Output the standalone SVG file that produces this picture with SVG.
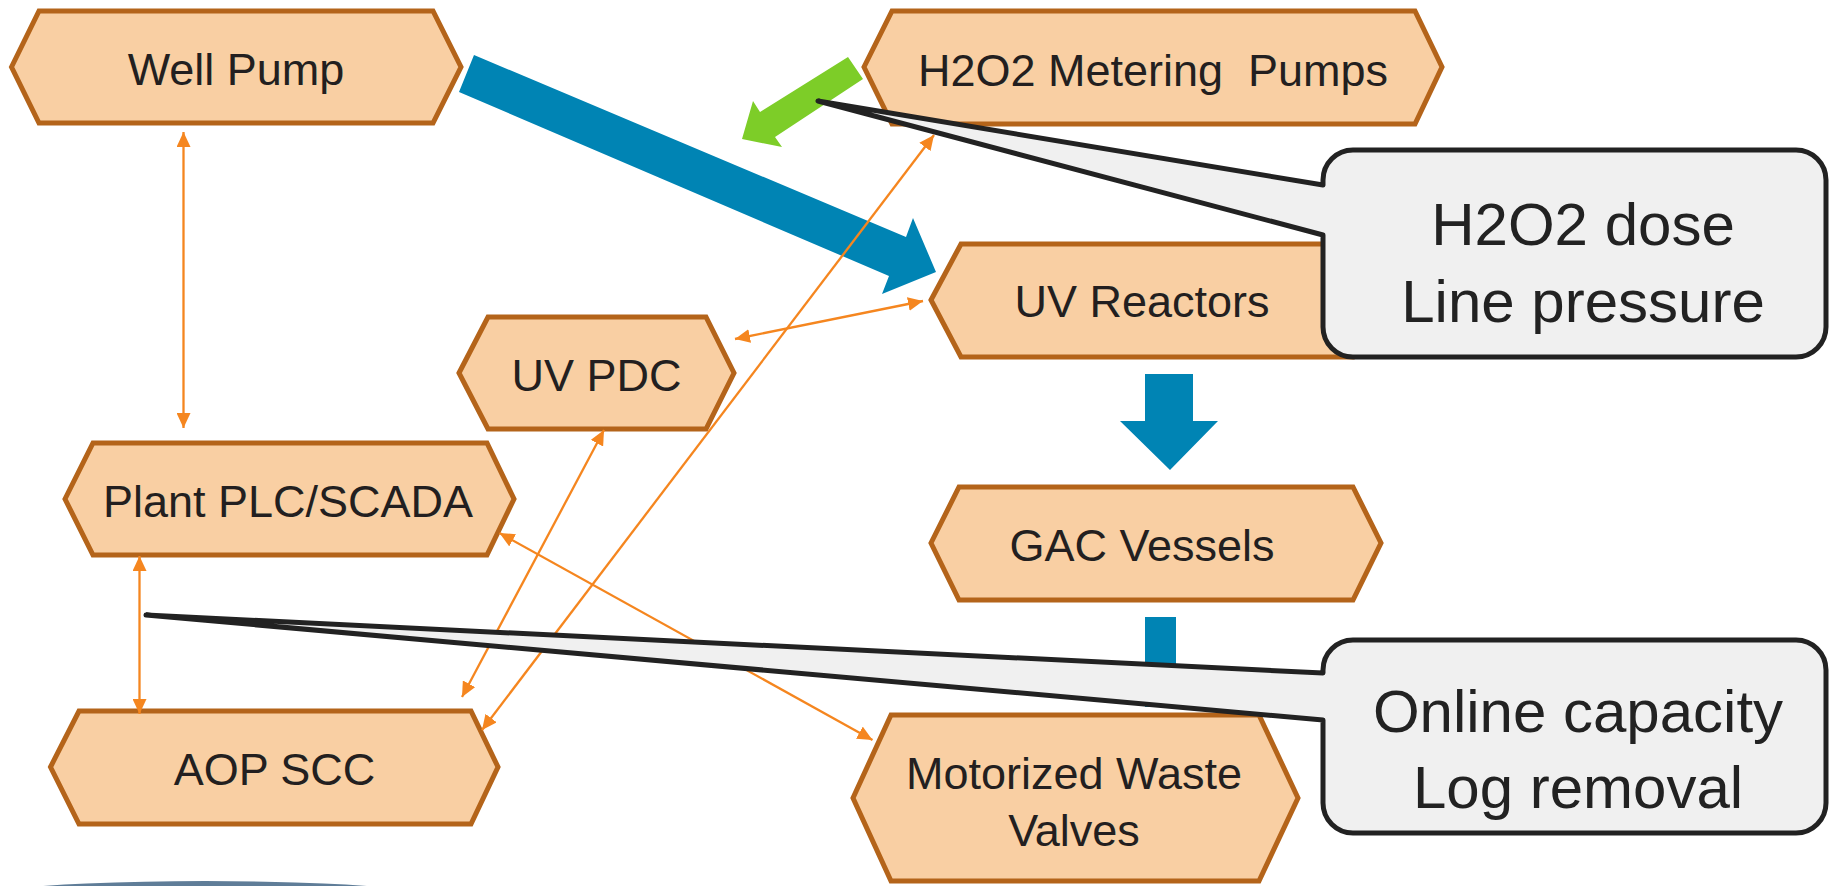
<svg xmlns="http://www.w3.org/2000/svg" width="1829" height="886" viewBox="0 0 1829 886">
<style>
.node{fill:#f9cfa3;stroke:#b4641a;stroke-width:5;stroke-linejoin:miter}
.lbl{font-family:"Liberation Sans",Arial,sans-serif;font-size:45px;fill:#231f20;text-anchor:middle}
.link{stroke:#f5861f;stroke-width:2.3;fill:none;marker-start:url(#ah);marker-end:url(#ah)}
.flow{fill:#0084b4}
.callout{fill:#f0f0f0;stroke:#222;stroke-width:5;stroke-linejoin:round}
.ctext{font-family:"Liberation Sans",Arial,sans-serif;font-size:60px;fill:#222;text-anchor:middle}
</style>
<defs>
<marker id="ah" viewBox="0 0 15 14" refX="15" refY="7" markerWidth="15" markerHeight="14" markerUnits="userSpaceOnUse" orient="auto-start-reverse">
<path d="M0,0 L15,7 L0,14 Z" fill="#f5861f"/>
</marker>
</defs>
<rect width="1829" height="886" fill="#ffffff"/>
<ellipse cx="205" cy="915" rx="310" ry="34" fill="#5f7d98"/>

<g id="node-well-pump">
<polygon class="node" points="11.5,67 39,11 433,11 461,67 433,123 39,123"/>
<text class="lbl" x="236" y="85">Well Pump</text>
</g>
<g id="node-h2o2-pumps">
<polygon class="node" points="864,67 892,11 1415,11 1442,67 1415,124 892,124"/>
<text class="lbl" x="1153" y="86" xml:space="preserve">H2O2 Metering  Pumps</text>
</g>
<g id="node-uv-reactors">
<polygon class="node" points="931,300 961,244 1353,244 1381,300 1353,357 961,357"/>
<text class="lbl" x="1142" y="317">UV Reactors</text>
</g>
<g id="node-uv-pdc">
<polygon class="node" points="459,373 488,317 706,317 734,373 706,429 488,429"/>
<text class="lbl" x="596.5" y="391">UV PDC</text>
</g>
<g id="node-plant-plc">
<polygon class="node" points="65,499 93,443 487,443 514,499 487,555 93,555"/>
<text class="lbl" x="288" y="517">Plant PLC/SCADA</text>
</g>
<g id="node-gac">
<polygon class="node" points="931,543 959,487 1353,487 1381,543 1353,600 959,600"/>
<text class="lbl" x="1142" y="561">GAC Vessels</text>
</g>
<g id="node-aop-scc">
<polygon class="node" points="50.5,767 79,711 471,711 498,767 471,824 79,824"/>
<text class="lbl" x="274.5" y="785">AOP SCC</text>
</g>
<g id="node-waste-valves">
<polygon class="node" points="853,798 891,715 1259,715 1298,798 1259,881 891,881"/>
<text class="lbl" x="1074" y="789">Motorized Waste</text>
<text class="lbl" x="1074" y="846">Valves</text>
</g>

<g id="connectors">
<polygon class="flow" points="474,55 906,237 913,218 936,272 882,294 889,276 459,92"/>
<polygon class="flow" points="1145,374 1193,374 1193,421 1218,421 1170,470 1120,421 1145,421"/>
<rect class="flow" x="1145" y="617" width="31" height="90"/>
<polygon fill="#7dcd28" points="848,57 863,79 775,137 782,147 742,139 753,101 760,112"/>
<line class="link" x1="183.5" y1="132" x2="183.5" y2="428"/>
<line class="link" x1="139.5" y1="556" x2="139.5" y2="714"/>
<line class="link" x1="735" y1="339" x2="923" y2="301"/>
<line class="link" x1="604" y1="430" x2="462" y2="697"/>
<line class="link" x1="934" y1="135" x2="482" y2="730"/>
<line class="link" x1="499.5" y1="533" x2="872.5" y2="740"/>
</g>

<g id="callout-h2o2">
<path class="callout" d="M1353,150 H1796 A30,30 0 0 1 1826,180 V327 A30,30 0 0 1 1796,357 H1353 A30,30 0 0 1 1323,327 V235 L818,101 L1323,185 V180 A30,30 0 0 1 1353,150 Z"/>
<text class="ctext" x="1583" y="245">H2O2 dose</text>
<text class="ctext" x="1583" y="322">Line pressure</text>
</g>
<g id="callout-capacity">
<path class="callout" d="M1353,640 H1796 A30,30 0 0 1 1826,670 V803 A30,30 0 0 1 1796,833 H1353 A30,30 0 0 1 1323,803 V720 L146,615 L1323,673 V670 A30,30 0 0 1 1353,640 Z"/>
<text class="ctext" x="1578" y="732">Online capacity</text>
<text class="ctext" x="1578" y="808">Log removal</text>
</g>
</svg>
